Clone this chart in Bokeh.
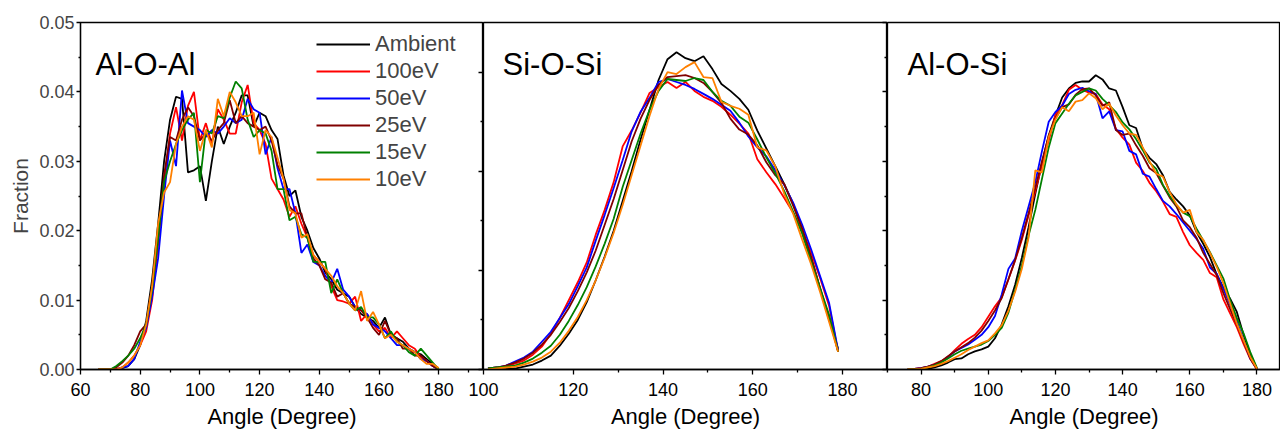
import numpy as np
from bokeh.plotting import figure
from bokeh.layouts import row
from bokeh.models import (Range1d, LinearAxis, FixedTicker, Legend, LegendItem,
                          Label, NumeralTickFormatter)
from bokeh.embed import file_html
from bokeh.resources import INLINE

FONT = "Liberation Sans"

series_names = ["Ambient", "100eV", "50eV", "25eV", "15eV", "10eV"]
series_colors = ["#000000", "#ff0000", "#0000ff", "#800000", "#008000", "#ff8000"]
panel_titles = ["Al-O-Al", "Si-O-Si", "Al-O-Si"]
x_label = "Angle (Degree)"
y_label = "Fraction"

# ---------------- Al-O-Al (angles 66..180 step 2) ----------------
angle_alo_al = list(range(66, 181, 2))
aloal_ambient = [0, 0, 0, 0, 0.0002, 0.0005, 0.0015, 0.0035, 0.007, 0.013,
                 0.021, 0.030, 0.036, 0.0393, 0.039, 0.0284, 0.0287, 0.0293, 0.0243, 0.030,
                 0.035, 0.0325, 0.035, 0.037, 0.0395, 0.0395, 0.035, 0.037, 0.0365, 0.0345,
                 0.0332, 0.028, 0.025, 0.0258, 0.022, 0.020, 0.0175, 0.016, 0.014, 0.013,
                 0.0115, 0.011, 0.0105, 0.009, 0.008, 0.0075, 0.007, 0.006, 0.0075, 0.005,
                 0.0045, 0.004, 0.003, 0.0025, 0.0022, 0.0015, 0.0008, 0.0001]
aloal_100 = [0, 0, 0, 0.0001, 0.0003, 0.001, 0.002, 0.0035, 0.0055, 0.010,
             0.018, 0.027, 0.034, 0.0378, 0.033, 0.038, 0.040, 0.033, 0.0355, 0.0325,
             0.0375, 0.036, 0.034, 0.034, 0.0385, 0.041, 0.0355, 0.0345, 0.0325, 0.0275,
             0.026, 0.0245, 0.022, 0.0235, 0.021, 0.019, 0.0165, 0.0155, 0.0145, 0.012,
             0.010, 0.0098, 0.0095, 0.0105, 0.007, 0.008, 0.0065, 0.0055, 0.006, 0.0045,
             0.0055, 0.0045, 0.0035, 0.003, 0.0018, 0.0012, 0.0005, 0.0]
aloal_50 = [0, 0, 0, 0, 0.0003, 0.0005, 0.0015, 0.004, 0.006, 0.0105,
            0.016, 0.025, 0.033, 0.0293, 0.0402, 0.0355, 0.035, 0.0345, 0.0335, 0.0345,
            0.034, 0.035, 0.0362, 0.0355, 0.036, 0.039, 0.0375, 0.037, 0.031, 0.0335,
            0.029, 0.026, 0.026, 0.0225, 0.0168, 0.018, 0.0155, 0.015, 0.0135, 0.0125,
            0.0145, 0.0115, 0.0105, 0.009, 0.0085, 0.008, 0.0065, 0.006, 0.0055, 0.0045,
            0.0035, 0.0035, 0.003, 0.0025, 0.0015, 0.0012, 0.0005, 0]
aloal_25 = [0, 0, 0, 0.0003, 0.001, 0.002, 0.0035, 0.0055, 0.0065, 0.012,
            0.019, 0.028, 0.0335, 0.033, 0.036, 0.0378, 0.0365, 0.033, 0.034, 0.033,
            0.0345, 0.0355, 0.0388, 0.0355, 0.0365, 0.0355, 0.035, 0.0345, 0.035, 0.033,
            0.0295, 0.0275, 0.0235, 0.0225, 0.0225, 0.019, 0.016, 0.015, 0.013, 0.0125,
            0.0105, 0.011, 0.0095, 0.009, 0.0085, 0.0075, 0.006, 0.005, 0.007, 0.005,
            0.0045, 0.003, 0.003, 0.002, 0.002, 0.0012, 0.0005, 0]
aloal_15 = [0, 0, 0, 0.0005, 0.0012, 0.002, 0.003, 0.0045, 0.0065, 0.0115,
            0.019, 0.027, 0.030, 0.0325, 0.0345, 0.036, 0.037, 0.027, 0.0345, 0.034,
            0.0365, 0.0362, 0.0392, 0.0415, 0.0405, 0.036, 0.0335, 0.0345, 0.034, 0.0315,
            0.026, 0.026, 0.0215, 0.022, 0.0195, 0.019, 0.0155, 0.0155, 0.0155, 0.011,
            0.013, 0.011, 0.0095, 0.0085, 0.009, 0.0075, 0.0075, 0.0065, 0.0045, 0.0055,
            0.004, 0.0035, 0.0025, 0.002, 0.003, 0.002, 0.001, 0]
aloal_10 = [0, 0, 0, 0, 0.0003, 0.001, 0.002, 0.0035, 0.0065, 0.012,
            0.021, 0.0255, 0.027, 0.0325, 0.035, 0.0365, 0.036, 0.0315, 0.0345, 0.032,
            0.039, 0.0365, 0.040, 0.0385, 0.0365, 0.0365, 0.037, 0.031, 0.0345, 0.0335,
            0.0305, 0.0275, 0.023, 0.0225, 0.019, 0.0195, 0.0165, 0.0155, 0.0145, 0.0135,
            0.012, 0.011, 0.0095, 0.0085, 0.0113, 0.007, 0.0083, 0.0065, 0.0045, 0.005,
            0.004, 0.0035, 0.003, 0.0025, 0.0015, 0.0008, 0.0008, 0.0002]

# ---------------- Si-O-Si (angles 101..179 step 2) ----------------
angle_sio_si = list(range(101, 180, 2))
siosi_ambient = [0, 0.00003, 0.00005, 0.0001, 0.0003, 0.0005, 0.0009, 0.0014, 0.0024, 0.0036,
                 0.0050, 0.0068, 0.0090, 0.0114, 0.0140, 0.0170, 0.0200, 0.0232, 0.0262, 0.0292,
                 0.0313, 0.0320, 0.0314, 0.0311, 0.0316, 0.0303, 0.0288, 0.0281, 0.0273, 0.0262,
                 0.0241, 0.0223, 0.0205, 0.0187, 0.0167, 0.0141, 0.0113, 0.0081, 0.0050, 0.0021]
siosi_100 = [0.0001, 0.0002, 0.0003, 0.0006, 0.0009, 0.0015, 0.0023, 0.0036, 0.0052, 0.0070,
             0.0088, 0.0108, 0.0136, 0.0161, 0.0189, 0.0225, 0.0241, 0.0259, 0.0279, 0.0285,
             0.0290, 0.0284, 0.0290, 0.0281, 0.0275, 0.0271, 0.0265, 0.0257, 0.0248, 0.0238,
             0.0212, 0.0199, 0.0187, 0.0173, 0.0158, 0.0140, 0.0118, 0.0092, 0.0064, 0.0018]
siosi_50 = [0.0001, 0.0002, 0.0004, 0.0008, 0.0012, 0.0018, 0.0028, 0.0038, 0.0052, 0.0066,
            0.0084, 0.0103, 0.0130, 0.0156, 0.0183, 0.0211, 0.0240, 0.0260, 0.0274, 0.0290,
            0.0293, 0.0290, 0.0287, 0.0283, 0.0278, 0.0273, 0.0267, 0.0261, 0.0249, 0.0235,
            0.0224, 0.0215, 0.0201, 0.0186, 0.0168, 0.0146, 0.0121, 0.0094, 0.0067, 0.0019]
siosi_25 = [0.0001, 0.0002, 0.0004, 0.0007, 0.0011, 0.0017, 0.0025, 0.0035, 0.0048, 0.0062,
            0.0079, 0.0098, 0.0120, 0.0146, 0.0172, 0.0201, 0.0230, 0.0253, 0.0272, 0.0287,
            0.0295, 0.0296, 0.0297, 0.0294, 0.0289, 0.0280, 0.0269, 0.0253, 0.0242, 0.0237,
            0.0226, 0.0209, 0.0196, 0.0187, 0.0165, 0.0142, 0.0113, 0.0082, 0.0052, 0.0018]
siosi_15 = [0.0001, 0.0002, 0.0003, 0.0004, 0.0007, 0.0011, 0.0017, 0.0024, 0.0035, 0.0049,
            0.0065, 0.0083, 0.0104, 0.0127, 0.0152, 0.0184, 0.0211, 0.0238, 0.0262, 0.0281,
            0.0293, 0.0292, 0.0291, 0.0294, 0.0292, 0.0280, 0.0271, 0.0266, 0.0255, 0.0249,
            0.0232, 0.0214, 0.0198, 0.0180, 0.0159, 0.0137, 0.0109, 0.0082, 0.0055, 0.0018]
siosi_10 = [0.0, 0.0001, 0.0002, 0.0003, 0.0005, 0.0008, 0.0012, 0.0018, 0.0027, 0.0039,
            0.0053, 0.0070, 0.0090, 0.0113, 0.0138, 0.0166, 0.0196, 0.0226, 0.0256, 0.0283,
            0.0300, 0.0298, 0.0305, 0.0310, 0.0295, 0.0294, 0.0270, 0.0266, 0.0263, 0.0257,
            0.0224, 0.0221, 0.0205, 0.0177, 0.0157, 0.0131, 0.0106, 0.0078, 0.0048, 0.0018]

# ---------------- Al-O-Si (angles 76..180 step 2) ----------------
angle_alo_si = list(range(76, 181, 2))
alosi_ambient = [0.0, 0.0, 0.00005, 0.0001, 0.0003, 0.0006, 0.001, 0.0015, 0.0016, 0.0022,
                 0.0026, 0.0029, 0.0033, 0.0045, 0.0065, 0.0091, 0.0122, 0.0161, 0.0205, 0.0253,
                 0.0298, 0.0337, 0.0366, 0.0392, 0.0405, 0.0413, 0.0415, 0.0415, 0.0424, 0.0418,
                 0.0405, 0.0402, 0.0378, 0.0352, 0.0348, 0.0318, 0.0305, 0.0296, 0.0280, 0.0256,
                 0.0245, 0.0235, 0.0222, 0.0198, 0.0181, 0.0162, 0.0137, 0.0118, 0.0102, 0.0083,
                 0.0050, 0.0022, 0.0001]
alosi_100 = [0, 0.0001, 0.0002, 0.0004, 0.0008, 0.0012, 0.0018, 0.0028, 0.0037, 0.0044,
             0.0050, 0.0061, 0.0076, 0.0091, 0.0104, 0.0130, 0.0157, 0.0187, 0.0222, 0.0257,
             0.0295, 0.0330, 0.0367, 0.0381, 0.0403, 0.0410, 0.0403, 0.0399, 0.0397, 0.0382,
             0.0375, 0.0347, 0.0334, 0.0324, 0.0298, 0.0286, 0.0269, 0.0257, 0.0242, 0.0224,
             0.0220, 0.0198, 0.0179, 0.0168, 0.0158, 0.0139, 0.0133, 0.0101, 0.0081, 0.0061,
             0.0037, 0.0015, 0.0]
alosi_50 = [0, 0.0001, 0.0002, 0.0004, 0.0007, 0.0011, 0.0018, 0.0026, 0.0031, 0.0036,
            0.0043, 0.0050, 0.0061, 0.0077, 0.0108, 0.0145, 0.0160, 0.0200, 0.0235, 0.0270,
            0.0315, 0.0357, 0.0371, 0.0380, 0.0397, 0.0403, 0.0406, 0.0401, 0.0397, 0.0362,
            0.0372, 0.0345, 0.0343, 0.0315, 0.0310, 0.0282, 0.0278, 0.0260, 0.0243, 0.0235,
            0.0224, 0.0212, 0.0200, 0.0188, 0.0174, 0.0147, 0.0138, 0.0116, 0.0093, 0.0070,
            0.0042, 0.0016, 0.0001]
alosi_25 = [0, 0.0001, 0.0002, 0.0004, 0.0007, 0.0012, 0.0019, 0.0026, 0.0032, 0.0038,
            0.0046, 0.0056, 0.0070, 0.0085, 0.0103, 0.0130, 0.0158, 0.0190, 0.0225, 0.0262,
            0.0300, 0.0337, 0.0362, 0.0378, 0.0382, 0.0396, 0.0404, 0.0405, 0.0395, 0.0380,
            0.0385, 0.0345, 0.0338, 0.0340, 0.0323, 0.0308, 0.0290, 0.0283, 0.0265, 0.0248,
            0.0235, 0.0215, 0.0205, 0.0190, 0.0168, 0.0152, 0.0136, 0.0110, 0.0087, 0.0065,
            0.0041, 0.0016, 0.0]
alosi_15 = [0, 0, 0.0001, 0.0003, 0.0006, 0.0010, 0.0016, 0.0022, 0.0027, 0.0030,
            0.0033, 0.0036, 0.0041, 0.0050, 0.0060, 0.0082, 0.0115, 0.0150, 0.0193, 0.0230,
            0.0275, 0.0320, 0.0355, 0.0369, 0.0383, 0.0395, 0.0400, 0.0405, 0.0402, 0.0390,
            0.0381, 0.0371, 0.0356, 0.0346, 0.0332, 0.0316, 0.0298, 0.0289, 0.0266, 0.0250,
            0.0237, 0.0226, 0.0221, 0.0203, 0.0186, 0.0169, 0.0150, 0.0131, 0.0100, 0.0074,
            0.0052, 0.0025, 0.0002]
alosi_10 = [0, 0, 0.0001, 0.0003, 0.0005, 0.0008, 0.0012, 0.0017, 0.0022, 0.0028,
            0.0033, 0.0038, 0.0042, 0.0052, 0.0064, 0.0085, 0.0112, 0.0145, 0.0190, 0.0287,
            0.0284, 0.0335, 0.0360, 0.0378, 0.0372, 0.0386, 0.0388, 0.0398, 0.0391, 0.0375,
            0.0383, 0.0366, 0.0352, 0.0340, 0.0338, 0.0320, 0.0300, 0.0282, 0.0278, 0.0256,
            0.0238, 0.0226, 0.0230, 0.0198, 0.0187, 0.0168, 0.0148, 0.0124, 0.0095, 0.0066,
            0.0042, 0.0018, 0.0001]

# tick values
p1_x_major = [60, 80, 100, 120, 140, 160, 180]
p1_x_minor = [70, 90, 110, 130, 150, 170, 190]
p2_x_major = [100, 120, 140, 160, 180]
p2_x_minor = [110, 130, 150, 170, 190]
p3_x_major = [80, 100, 120, 140, 160, 180]
p3_x_minor = [70, 90, 110, 130, 150, 170]
y_major_a = [0.0, 0.01, 0.02, 0.03, 0.04, 0.05]
y_minor_a = [0.005, 0.015, 0.025, 0.035, 0.045]
y_major_b = [0.0, 0.01, 0.02, 0.03]
y_minor_b = [0.005, 0.015, 0.025]

H = 431
TOP, BOTTOM = 22, 62
OVERLAP = 16   # px by which panels 2 and 3 slide under the previous panel


def style_x_axis(ax, major, minor):
    ax.ticker = FixedTicker(ticks=major, minor_ticks=minor)
    ax.axis_label = x_label
    ax.axis_label_text_font = FONT
    ax.axis_label_text_font_size = "22px"
    ax.axis_label_text_font_style = "normal"
    ax.axis_label_text_color = "black"
    ax.axis_label_standoff = 5
    ax.major_label_text_font = FONT
    ax.major_label_text_font_size = "18px"
    ax.major_label_text_color = "black"
    ax.major_label_standoff = 8
    ax.major_tick_out = 5
    ax.major_tick_in = 0
    ax.minor_tick_out = 3
    ax.minor_tick_in = 0
    ax.axis_line_width = 1.3
    ax.major_tick_line_width = 1.3
    ax.minor_tick_line_width = 1.3


def add_neighbour_ticks(p, range_name, major, minor):
    # y ticks of the next panel; they stick out to the left of that panel's frame
    for pos, length in ((major, 5), (minor, 3)):
        ax = LinearAxis(y_range_name=range_name,
                        ticker=FixedTicker(ticks=[], minor_ticks=pos),
                        major_tick_in=0, major_tick_out=0,
                        minor_tick_in=length, minor_tick_out=0,
                        minor_tick_line_width=1.3, major_label_standoff=0,
                        axis_line_color=None)
        p.add_layout(ax, "right")


def add_lines(p, xs, ys_list):
    rs = []
    for ys, c in zip(ys_list, series_colors):
        rs.append(p.line(xs, ys, line_color=c, line_width=1.8))
    return rs


# ---------- panel 1 ----------
p1 = figure(width=483, height=H, x_range=Range1d(60, 195), y_range=Range1d(0, 0.05),
            output_backend="svg", toolbar_location=None,
            min_border_left=80, min_border_right=0, min_border_top=TOP, min_border_bottom=BOTTOM)
p1.extra_y_ranges = {"p2": Range1d(0, 0.035)}
style_x_axis(p1.xaxis[0], p1_x_major, p1_x_minor)
ya = p1.yaxis[0]
ya.ticker = FixedTicker(ticks=y_major_a, minor_ticks=y_minor_a)
ya.formatter = NumeralTickFormatter(format="0.00")
ya.axis_label = y_label
ya.axis_label_text_font = FONT
ya.axis_label_text_font_size = "21px"
ya.axis_label_text_font_style = "normal"
ya.axis_label_standoff = 4
ya.major_label_text_font = FONT
ya.major_label_text_font_size = "18px"
ya.major_label_standoff = 2
ya.major_tick_out = 4
ya.major_tick_in = 0
ya.minor_tick_out = 2
ya.minor_tick_in = 0
ya.axis_line_width = 1.3
ya.major_tick_line_width = 1.3
ya.minor_tick_line_width = 1.3
add_neighbour_ticks(p1, "p2", y_major_b, y_minor_b)
r1 = add_lines(p1, angle_alo_al,
               [aloal_ambient, aloal_100, aloal_50, aloal_25, aloal_15, aloal_10])

legend = Legend(items=[LegendItem(label=n, renderers=[r]) for n, r in zip(series_names, r1)],
                location=(236, 177), orientation="vertical",
                border_line_color=None, background_fill_alpha=0,
                padding=0, margin=0, spacing=1,
                glyph_width=54, glyph_height=20, label_height=20, label_standoff=5,
                label_text_font=FONT, label_text_font_size="22px")
p1.add_layout(legend)

# ---------- panel 2 ----------
p2 = figure(width=404 + OVERLAP, height=H, x_range=Range1d(100, 190), y_range=Range1d(0, 0.035),
            output_backend="svg", toolbar_location=None, y_axis_location=None,
            min_border_left=OVERLAP, min_border_right=0, min_border_top=TOP,
            min_border_bottom=BOTTOM)
p2.extra_y_ranges = {"p3": Range1d(0, 0.05)}
style_x_axis(p2.xaxis[0], p2_x_major, p2_x_minor)
add_neighbour_ticks(p2, "p3", y_major_a, y_minor_a)
add_lines(p2, angle_sio_si,
          [siosi_ambient, siosi_100, siosi_50, siosi_25, siosi_15, siosi_10])

# ---------- panel 3 ----------
p3 = figure(width=393 + OVERLAP, height=H, x_range=Range1d(70, 187), y_range=Range1d(0, 0.05),
            output_backend="svg", toolbar_location=None, y_axis_location=None,
            min_border_left=OVERLAP, min_border_right=0, min_border_top=TOP,
            min_border_bottom=BOTTOM)
style_x_axis(p3.xaxis[0], p3_x_major, p3_x_minor)
add_lines(p3, angle_alo_si,
          [alosi_ambient, alosi_100, alosi_50, alosi_25, alosi_15, alosi_10])

for p, title, tx in zip([p1, p2, p3], panel_titles, [15, 19, 20]):
    p.grid.visible = False
    p.outline_line_color = "black"
    p.outline_line_width = 1.3
    p.background_fill_color = "white"
    p.add_layout(Label(x=tx, y=305, x_units="screen", y_units="screen", text=title,
                       text_font=FONT, text_font_size="31px", text_baseline="alphabetic",
                       text_color="black"))

p1.border_fill_color = "white"
for p in (p2, p3):
    p.border_fill_alpha = 0
    p.styles = {"margin-left": f"-{OVERLAP}px"}

layout = row(p1, p2, p3, spacing=0)
open("out.html", "w").write(file_html(layout, INLINE))
